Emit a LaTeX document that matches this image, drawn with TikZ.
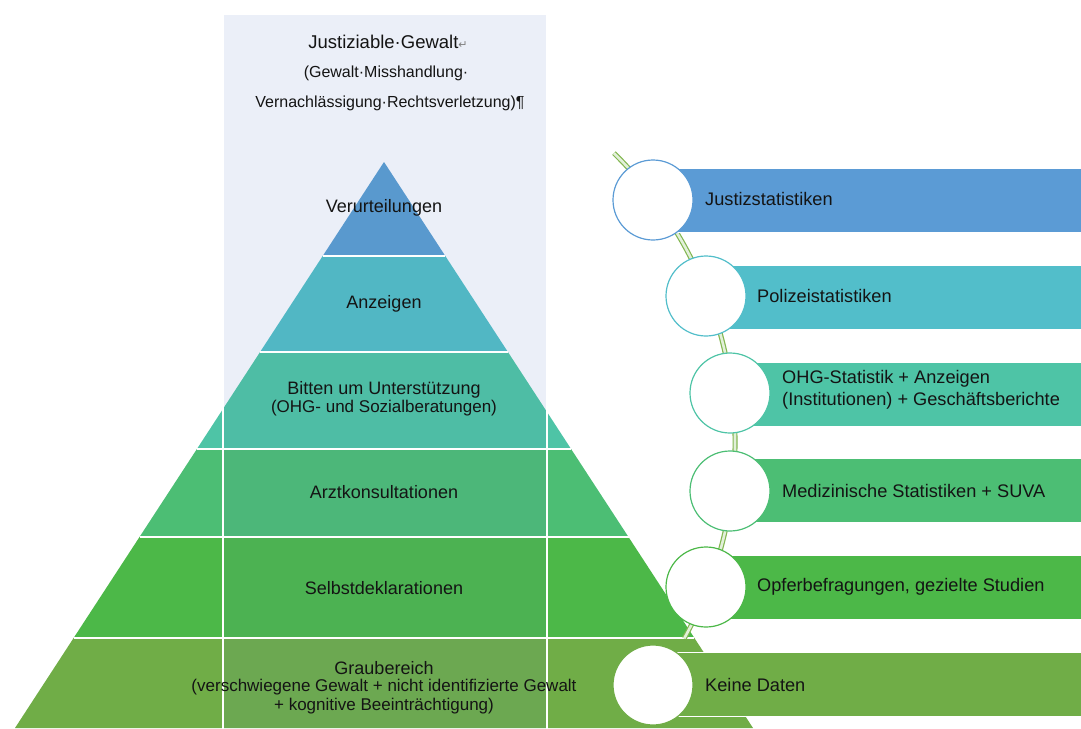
\documentclass[tikz,border=0pt]{standalone}
\usepackage{fontspec}
\setmainfont{Liberation Sans}
\newfontfamily\symfont{DejaVu Sans}
\definecolor{cJ}{RGB}{91,155,213}
\definecolor{cP}{RGB}{82,190,202}
\definecolor{cO}{RGB}{78,196,166}
\definecolor{cM}{RGB}{76,190,116}
\definecolor{cS}{RGB}{76,184,72}
\definecolor{cG}{RGB}{112,173,71}
\definecolor{rectbg}{RGB}{235,239,248}
\definecolor{txt}{RGB}{20,20,20}
\definecolor{arcedge}{RGB}{130,182,80}
\definecolor{arcfill}{RGB}{226,240,217}
\definecolor{veil}{RGB}{80,140,160}
\begin{document}
\begin{tikzpicture}[x=1pt,y=-1pt,
  sep/.style={draw=white,line width=1.5pt},
  lbl/.style={text=txt,font=\fontsize{18}{19}\selectfont,align=center,inner sep=0pt},
  sublbl/.style={text=txt,font=\fontsize{17}{19}\selectfont,align=center,inner sep=0pt},
  ttl/.style={text=txt,inner sep=0pt},
  arcline/.style={draw=arcedge,double=arcfill,line width=1.2pt,double distance=2.6pt},
  bar/.style={fill=#1,draw=white,line width=0.8pt,minimum height=64pt,inner sep=0pt,anchor=west},
  dot/.style={circle,fill=white,draw=#1,line width=1.2pt,minimum size=80pt,inner sep=0pt},
  btxt/.style={text=txt,font=\fontsize{18.2}{22}\selectfont,align=left,inner sep=0pt,anchor=west}]
\useasboundingbox (0,0) rectangle (1081,728);
% background panel
\fill[rectbg] (223,14) rectangle (547,728);
% pyramid coordinates
\coordinate (A) at (384,162);
\coordinate (L1) at (322.7,256); \coordinate (R1) at (445.3,256);
\coordinate (L2) at (260.1,352); \coordinate (R2) at (507.9,352);
\coordinate (L3) at (196.9,449); \coordinate (R3) at (571.1,449);
\coordinate (L4) at (139.5,537); \coordinate (R4) at (628.5,537);
\coordinate (L5) at (73.6,638);  \coordinate (R5) at (694.4,638);
\coordinate (L6) at (15.0,728);  \coordinate (R6) at (753.0,728);
\fill[cJ] (A) -- (R1) -- (L1) -- cycle;
\fill[cP] (L1) -- (R1) -- (R2) -- (L2) -- cycle;
\fill[cO] (L2) -- (R2) -- (R3) -- (L3) -- cycle;
\fill[cM] (L3) -- (R3) -- (R4) -- (L4) -- cycle;
\fill[cS] (L4) -- (R4) -- (R5) -- (L5) -- cycle;
\fill[cG] (L5) -- (R5) -- (R6) -- (L6) -- cycle;
\begin{scope}
  \clip (223,14) rectangle (547,728);
  \fill[veil,opacity=0.12] (A) -- (R6) -- (L6) -- cycle;
\end{scope}
\draw[sep] (L1) -- (R1);
\draw[sep] (L2) -- (R2);
\draw[sep] (L3) -- (R3);
\draw[sep] (L4) -- (R4);
\draw[sep] (L5) -- (R5);
\draw[white,line width=1.2pt] (223,14) rectangle (547,730);
% pyramid labels
\node[lbl] (verurteilungen) at (384,208) {Verurteilungen};
\node[lbl] (anzeigen) at (384,304) {Anzeigen};
\node[lbl] (bitten) at (384,390) {Bitten um Unterstützung};
\node[sublbl] (bittensub) at (384,408) {(OHG- und Sozialberatungen)};
\node[lbl] (arzt) at (384,492) {Arztkonsultationen};
\node[lbl] (selbst) at (384,588) {Selbstdeklarationen};
\node[lbl] (grau) at (384,668) {Graubereich};
\node[sublbl,align=center,font=\fontsize{17}{19}\selectfont] (grausub) at (384,697) {(verschwiegene Gewalt + nicht identifizierte Gewalt\\+ kognitive Beeinträchtigung)};
% title
\node[ttl,font=\fontsize{18.5}{20}\selectfont] (title1) at (388,42) {Justiziable·Gewalt{\symfont\fontsize{11}{11}\selectfont\color{gray}↵}};
\node[ttl,font=\fontsize{16}{18}\selectfont] (title2) at (386,73) {(Gewalt·Misshandlung·};
\node[ttl,font=\fontsize{16}{18}\selectfont] (title3) at (390,103) {Vernachlässigung·Rechtsverletzung)¶};
% connecting arc
\coordinate (arcA) at (613.9,153.1);
\draw[arcline] (arcA) arc[start angle=-45.5,end angle=29,radius=405];
% bars
\node[bar=cJ,minimum width=432pt] (barJ) at (653,200.5) {};
\node[bar=cP,minimum width=379pt] (barP) at (706,297.5) {};
\node[bar=cO,minimum width=355pt] (barO) at (730,394) {};
\node[bar=cM,minimum width=355pt] (barM) at (730,490.5) {};
\node[bar=cS,minimum width=379pt] (barS) at (706,587) {};
\node[bar=cG,minimum width=432pt] (barG) at (653,684) {};
% circles
\node[dot=cJ] (cirJ) at (653,200) {};
\node[dot=cP] (cirP) at (706,296) {};
\node[dot=cO] (cirO) at (730,393) {};
\node[dot=cM] (cirM) at (730,491) {};
\node[dot=cS] (cirS) at (706,587) {};
\node[dot=cG] (cirG) at (653,685) {};
% bar texts
\node[btxt] (tJ) at (705,199) {Justizstatistiken};
\node[btxt] (tP) at (757,296) {Polizeistatistiken};
\node[btxt] (tO) at (782,390) {OHG-Statistik + Anzeigen\\(Institutionen) + Geschäftsberichte};
\node[btxt] (tM) at (782,491) {Medizinische Statistiken + SUVA};
\node[btxt] (tS) at (757,587) {Opferbefragungen, gezielte Studien};
\node[btxt] (tG) at (705,685) {Keine Daten};
\end{tikzpicture}
\end{document}
